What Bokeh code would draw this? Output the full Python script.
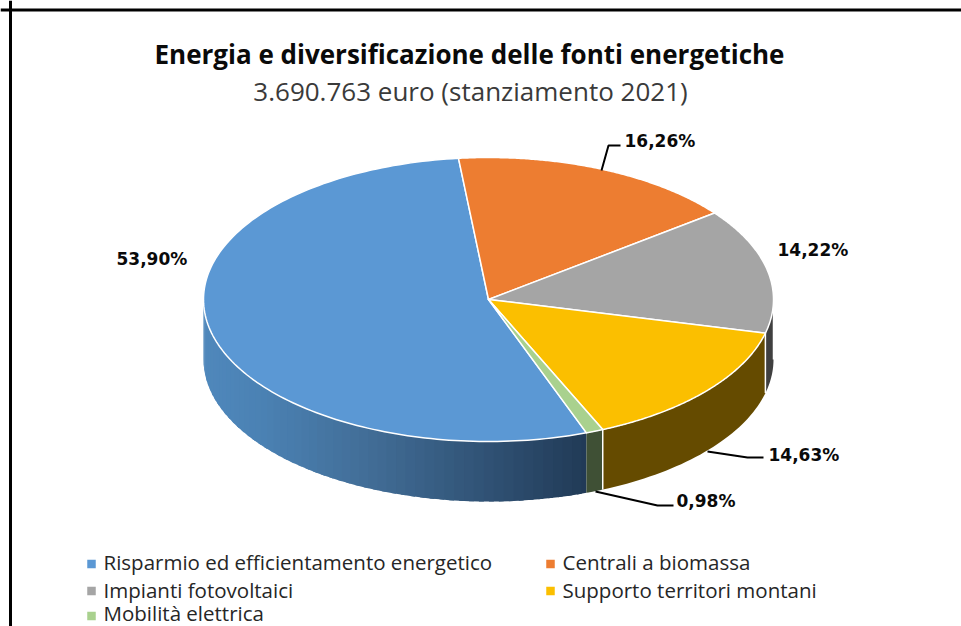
import numpy as np
from bokeh.plotting import figure
from bokeh.models import Range1d, Span
from bokeh.core.properties import value
from bokeh.embed import file_html
from bokeh.resources import INLINE

title = "Energia e diversificazione delle fonti energetiche"
subtitle = "3.690.763 euro (stanziamento 2021)"
categories = ["Risparmio ed efficientamento energetico", "Centrali a biomassa",
              "Impianti fotovoltaici", "Supporto territori montani", "Mobilità elettrica"]
shares = [53.90, 16.26, 14.22, 14.63, 0.98]
share_labels = ["53,90%", "16,26%", "14,22%", "14,63%", "0,98%"]
top_colors = ["#5B98D4", "#ED7D31", "#A5A5A5", "#FBBF00", "#A9D18E"]
wall_colors = [None, "#8A4A1D", "#404040", "#654B00", "#3F5035"]

W, H = 961, 626
CX, CY, RX, RY, DEPTH = 488.0, 299.0, 285.0, 142.0, 60.0
START = 159.9

p = figure(width=W, height=H, output_backend="svg", toolbar_location=None,
           x_range=Range1d(0, W), y_range=Range1d(H, 0),
           x_axis_location=None, y_axis_location=None, min_border=0,
           outline_line_color=None, background_fill_color="white", border_fill_color="white")
p.grid.visible = False

p.add_layout(Span(location=9.5, dimension="width", line_color="black", line_width=3))
p.add_layout(Span(location=10.0, dimension="height", line_color="black", line_width=3))


def ex(t):
    return CX + RX * np.sin(np.radians(t))


def ey(t):
    return CY - RY * np.cos(np.radians(t))


def mix(x):
    xs = [203, 257, 357, 457, 585]
    r = np.interp(x, xs, [0x50, 0x4B, 0x43, 0x34, 0x21])
    g = np.interp(x, xs, [0x88, 0x82, 0x6F, 0x58, 0x3A])
    b = np.interp(x, xs, [0xBC, 0xB4, 0x99, 0x7C, 0x56])
    return "#%02x%02x%02x" % (int(r), int(g), int(b))


total = sum(shares)
edges = START + np.concatenate([[0], np.cumsum(shares)]) * 360.0 / total

# side wall, front half only
seam_x, seam_y = [], []
for i in range(len(shares)):
    a, b = edges[i], edges[i + 1]
    for lo, hi in ((90, 270), (450, 630)):
        s, e = max(a, lo), min(b, hi)
        if e <= s:
            continue
        if i == 0:
            ts = np.linspace(s, e, 56)
            for t0, t1 in zip(ts[:-1], ts[1:]):
                fine = np.array([max(s, t0 - 1.0), t0, t1])
                xs = list(ex(fine)) + list(ex(fine[::-1]))
                ys = list(ey(fine)) + list(ey(fine[::-1]) + DEPTH)
                p.patch(xs, ys, fill_color=mix(ex((t0 + t1) / 2)), line_color=None)
        else:
            fine = np.linspace(s, e, 40)
            xs = list(ex(fine)) + list(ex(fine[::-1]))
            ys = list(ey(fine)) + list(ey(fine[::-1]) + DEPTH)
            p.patch(xs, ys, fill_color=wall_colors[i], line_color=None)
        seam_x.append([ex(s), ex(s)])
        seam_y.append([ey(s), ey(s) + DEPTH])
p.multi_line(seam_x[1:], seam_y[1:], line_color="white", line_width=1.5)

# top face
for i in range(len(shares)):
    fine = np.linspace(edges[i], edges[i + 1], 160)
    xs = [CX] + list(ex(fine))
    ys = [CY] + list(ey(fine))
    p.patch(xs, ys, fill_color=top_colors[i], line_color="white", line_width=1.5, line_join="round")

# leader lines
p.line([601, 608, 620], [170, 145, 145], line_color="black", line_width=2)
p.line([707, 747, 763], [451, 457, 457], line_color="black", line_width=2)
p.line([595, 657, 673], [491, 505, 505], line_color="black", line_width=2)

# texts
p.text([469], [53], text=[title], text_font=value("Open Sans"), text_font_style="bold",
       text_font_size="26px", text_align="center", text_baseline="middle", text_color="#0a0a0a")
p.text([470], [90], text=[subtitle], text_font=value("Open Sans"),
       text_font_size="26px", text_align="center", text_baseline="middle", text_color="#3a3a3a")

lab_x = [116, 624, 777, 768, 676]
lab_y = [258, 140, 249, 454, 500]
p.text(lab_x, lab_y, text=share_labels, text_font=value("DejaVu Sans"), text_font_style="bold",
       text_font_size="17px", text_align="left", text_baseline="middle", text_color="#0a0a0a")

sw_x = [91, 550, 91, 550, 91]
sw_y = [563.5, 563.5, 590.5, 590.5, 615.5]
tx_x = [103, 562, 103, 562, 103]
tx_y = [561, 561, 589, 589, 612]
p.scatter(sw_x, sw_y, marker="square", size=8.5, fill_color=top_colors, line_color=None)
p.text(tx_x, tx_y, text=categories, text_font=value("Open Sans"),
       text_font_size="20.5px", text_align="left", text_baseline="middle", text_color="#262626")

open("out.html", "w").write(file_html(p, INLINE))
